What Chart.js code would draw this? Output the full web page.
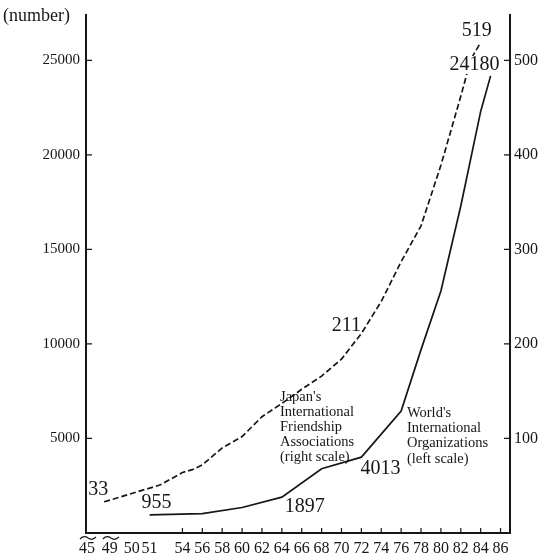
<!DOCTYPE html>
<html>
<head>
<meta charset="utf-8">
<script src="https://cdn.jsdelivr.net/npm/chart.js@4.4.0/dist/chart.umd.min.js"></script>
<style>
  html, body { margin: 0; background: #fff; }
  #wrap { width: 539px; height: 559px; }
</style>
</head>
<body>
<div id="wrap"><canvas id="chart"></canvas></div>
<script>
// Japan's international friendship associations (right scale)
const japanYears  = [48, 52, 54, 55, 56, 58, 60, 62, 64, 66, 68, 70, 72, 74, 76, 78, 80, 82, 83, 84];
const japanCounts = [33, 51, 64, 67, 72, 90, 102, 123, 137, 152, 166, 184, 211, 245, 287, 325, 389, 462, 501, 519];

// World's international organizations (left scale)
const worldYears  = [51, 56, 60, 64, 68, 72, 76, 78, 80, 82, 84, 85];
const worldCounts = [955, 1030, 1350, 1897, 3400, 4013, 6450, 9700, 12800, 17300, 22300, 24180];

const xTickYears = [45, 49, 50, 51, 54, 56, 58, 60, 62, 64, 66, 68, 70, 72, 74, 76, 78, 80, 82, 84, 86];
const leftTicks  = [5000, 10000, 15000, 20000, 25000];
const rightTicks = [100, 200, 300, 400, 500];

const japanNote = ["Japan's", 'International', 'Friendship', 'Associations', '(right scale)'];
const worldNote = ["World's", 'International', 'Organizations', '(left scale)'];

// numbers written next to the lines
const callouts = [
  { ds: 0, year: 48, text: '33',    dx: -6,  dy: -12 },
  { ds: 0, year: 72, text: '211',   dx: -15, dy: -8 },
  { ds: 0, year: 84, text: '519',   dx: -4,  dy: -12 },
  { ds: 1, year: 51, text: '955',   dx: 7,   dy: -12 },
  { ds: 1, year: 64, text: '1897',  dx: 23,  dy: 10 },
  { ds: 1, year: 72, text: '4013',  dx: 19,  dy: 12 },
  { ds: 1, year: 85, text: '24180', dx: -16, dy: -11, knockout: true }
];

const INK = '#161616';
const SERIF = "'Liberation Serif', 'DejaVu Serif', serif";

// the year axis is broken before 1954: squeeze 45-54 like the printed chart
const breakYears = [45, 49, 50, 51, 54];
const breakUnits = [44.4, 46.7, 48.9, 50.7, 54];
function warp(y) {
  if (y >= 54) return y;
  for (let i = 1; i < breakYears.length; i++) {
    if (y <= breakYears[i]) {
      const t = (y - breakYears[i - 1]) / (breakYears[i] - breakYears[i - 1]);
      return breakUnits[i - 1] + t * (breakUnits[i] - breakUnits[i - 1]);
    }
  }
  return y;
}
function unwarp(u) {
  if (u >= 54) return u;
  for (let i = 1; i < breakUnits.length; i++) {
    if (u <= breakUnits[i]) {
      const t = (u - breakUnits[i - 1]) / (breakUnits[i] - breakUnits[i - 1]);
      return breakYears[i - 1] + t * (breakYears[i] - breakYears[i - 1]);
    }
  }
  return u;
}

class BrokenYearScale extends Chart.LinearScale {
  getPixelForValue(v) { return v === null ? NaN : super.getPixelForValue(warp(v)); }
  getValueForPixel(p) { return unwarp(super.getValueForPixel(p)); }
}
BrokenYearScale.id = 'brokenYear';
BrokenYearScale.defaults = {};
Chart.register(BrokenYearScale);

const pts = (xs, ys) => xs.map((x, i) => ({ x: x, y: ys[i] }));

const decor = {
  id: 'decor',
  afterDraw(chart) {
    const ctx = chart.ctx;
    const { left, right, bottom } = chart.chartArea;
    const xs = chart.scales.x, yl = chart.scales.y, yr = chart.scales.y1;
    ctx.save();
    ctx.strokeStyle = INK;
    ctx.lineWidth = 1.2;
    ctx.beginPath();
    // inward tick marks
    xTickYears.filter(v => v >= 54).forEach(v => {
      const px = xs.getPixelForValue(v);
      ctx.moveTo(px, bottom); ctx.lineTo(px, bottom - 5);
    });
    leftTicks.forEach(v => {
      const py = yl.getPixelForValue(v);
      ctx.moveTo(left, py); ctx.lineTo(left + 6, py);
    });
    rightTicks.forEach(v => {
      const py = yr.getPixelForValue(v);
      ctx.moveTo(right, py); ctx.lineTo(right - 6, py);
    });
    // break marks under 45 and 49
    [45, 49].forEach(v => {
      const px = xs.getPixelForValue(v) + 1;
      const py = bottom + 5;
      ctx.moveTo(px - 8, py + 1);
      ctx.quadraticCurveTo(px - 4, py - 3, px, py);
      ctx.quadraticCurveTo(px + 4, py + 3, px + 8, py - 1);
    });
    ctx.stroke();

    ctx.fillStyle = INK;
    ctx.textAlign = 'center';
    ctx.textBaseline = 'middle';

    // value callouts
    ctx.font = '20px ' + SERIF;
    callouts.forEach(c => {
      const scale = c.ds === 0 ? yr : yl;
      const src = c.ds === 0 ? [japanYears, japanCounts] : [worldYears, worldCounts];
      const val = src[1][src[0].indexOf(c.year)];
      const tx = xs.getPixelForValue(c.year) + c.dx;
      const ty = scale.getPixelForValue(val) + c.dy;
      if (c.knockout) {
        const w = ctx.measureText(c.text).width;
        ctx.fillStyle = '#fff';
        ctx.fillRect(tx - w / 2 - 1, ty - 9, w + 2, 18);
        ctx.fillStyle = INK;
      }
      ctx.fillText(c.text, tx, ty);
    });

    // unit label
    ctx.font = '18px ' + SERIF;
    ctx.textAlign = 'left';
    ctx.fillText('(number)', 3, 16);

    // series notes
    ctx.font = '14.5px ' + SERIF;
    japanNote.forEach((t, i) => ctx.fillText(t, 280, 397 + i * 15));
    worldNote.forEach((t, i) => ctx.fillText(t, 407, 413 + i * 15.3));
    ctx.restore();
  }
};

const tickFont = { family: SERIF, size: 16 };

new Chart(document.getElementById('chart'), {
  type: 'line',
  data: {
    datasets: [
      {
        label: "Japan's International Friendship Associations",
        data: pts(japanYears, japanCounts),
        yAxisID: 'y1',
        borderColor: INK,
        borderWidth: 1.7,
        borderDash: [6, 3],
        pointRadius: 0,
        tension: 0
      },
      {
        label: "World's International Organizations",
        data: pts(worldYears, worldCounts),
        yAxisID: 'y',
        borderColor: INK,
        borderWidth: 1.7,
        pointRadius: 0,
        tension: 0
      }
    ]
  },
  options: {
    responsive: true,
    maintainAspectRatio: false,
    animation: false,
    layout: { padding: { top: 5 } },
    plugins: { legend: { display: false }, tooltip: { enabled: false } },
    scales: {
      x: {
        type: 'brokenYear',
        min: 44.3,
        max: 86.95,
        border: { color: INK, width: 2 },
        grid: { display: false, drawTicks: false },
        afterBuildTicks: s => { s.ticks = xTickYears.map(v => ({ value: v })); },
        afterFit: s => { s.height = 26; },
        ticks: {
          autoSkip: false, maxRotation: 0, padding: 6,
          color: INK, font: tickFont,
          callback: v => String(v)
        }
      },
      y: {
        position: 'left',
        min: 0,
        max: 27400,
        border: { color: INK, width: 2 },
        grid: { display: false, drawTicks: false },
        afterBuildTicks: s => { s.ticks = leftTicks.map(v => ({ value: v })); },
        afterFit: s => { s.width = 86; },
        ticks: { color: INK, font: { family: SERIF, size: 15 }, padding: 6, callback: v => String(v) }
      },
      y1: {
        position: 'right',
        min: 0,
        max: 548,
        border: { color: INK, width: 2 },
        grid: { display: false, drawTicks: false },
        afterBuildTicks: s => { s.ticks = rightTicks.map(v => ({ value: v })); },
        afterFit: s => { s.width = 29; },
        ticks: { color: INK, font: tickFont, padding: 4, callback: v => String(v) }
      }
    }
  },
  plugins: [decor]
});
</script>
</body>
</html>
